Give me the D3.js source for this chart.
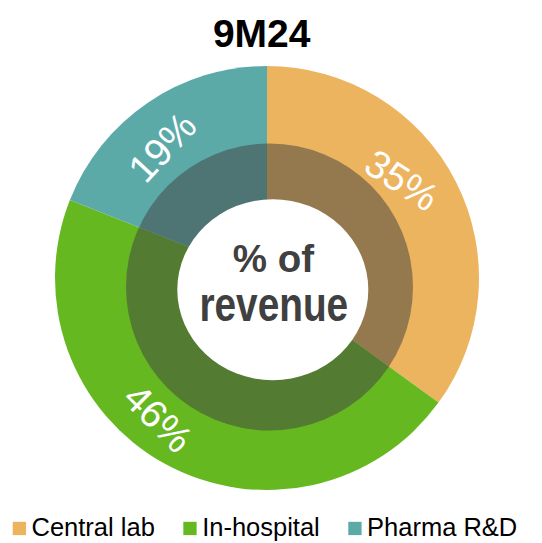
<!DOCTYPE html>
<html>
<head>
<meta charset="utf-8">
<script src="https://cdn.jsdelivr.net/npm/d3@7/dist/d3.min.js"></script>
<style>
  html, body { margin: 0; padding: 0; background: #fff; }
  svg { display: block; }
  text { font-family: "Liberation Sans", Arial, Helvetica, sans-serif; }
</style>
</head>
<body>
<svg id="chart" width="542" height="543"></svg>
<script>
// ---- data ----
const title = "9M24";
const categories = ["Central lab", "In-hospital", "Pharma R&D"];
const values = [35, 46, 19];
const labels = ["35%", "46%", "19%"];
const centerLines = ["% of", "revenue"];

// ---- style ----
const outerColors = ["#EDB45F", "#66B821", "#5BAAA8"];
const innerColors = ["#94794E", "#537B32", "#4E7574"];
const labelAngleOffset = [-9, 9, -4.5];   // degrees, relative to slice middle
const labelRadius = [167, 177, 168];
const labelRotate = [33, 45, -47];

const W = 542, H = 543;
const cx = 267, cy = 278, R = 212;
const svg = d3.select("#chart");

const pie = d3.pie().sort(null).value(d => d)
  .startAngle(0).endAngle(2 * Math.PI);
const arcs = pie(values);
const arcOuter = d3.arc().innerRadius(0).outerRadius(R);

// clip for darker ring
const defs = svg.append("defs");
defs.append("clipPath").attr("id", "ringClip")
  .append("circle").attr("cx", 269.5 - cx).attr("cy", 287 - cy).attr("r", 143.5);

const g = svg.append("g").attr("transform", `translate(${cx},${cy})`);

g.selectAll("path.outer").data(arcs).join("path")
  .attr("class", "outer")
  .attr("d", arcOuter)
  .attr("fill", (d, i) => outerColors[i]);

g.append("g").attr("clip-path", "url(#ringClip)")
  .selectAll("path.inner").data(arcs).join("path")
  .attr("class", "inner")
  .attr("d", arcOuter)
  .attr("fill", (d, i) => innerColors[i]);

// white center
g.append("ellipse")
  .attr("cx", 272.8 - cx).attr("cy", 289.7 - cy)
  .attr("rx", 95.5).attr("ry", 90.5)
  .attr("fill", "#fff");

// slice labels
g.selectAll("text.lbl").data(arcs).join("text")
  .attr("class", "lbl")
  .attr("transform", (d, i) => {
    const a = (d.startAngle + d.endAngle) / 2 + labelAngleOffset[i] * Math.PI / 180;
    const x = Math.sin(a) * labelRadius[i];
    const y = -Math.cos(a) * labelRadius[i];
    return `translate(${x},${y}) rotate(${labelRotate[i]})`;
  })
  .attr("text-anchor", "middle")
  .attr("dy", "0.36em")
  .attr("fill", "#fff")
  .style("font-size", "39px")
  .text((d, i) => labels[i]);

// center text
svg.append("text")
  .attr("x", 273.4).attr("y", 272.3)
  .attr("text-anchor", "middle")
  .attr("fill", "#404040")
  .style("font-size", "38.5px").style("font-weight", "bold")
  .text(centerLines[0]);
svg.append("text")
  .attr("transform", "translate(273.8,321) scale(1,1.22)")
  .attr("text-anchor", "middle")
  .attr("fill", "#404040")
  .style("font-size", "38.8px").style("font-weight", "bold")
  .text(centerLines[1]);

// title
svg.append("text")
  .attr("x", 261.7).attr("y", 46.5)
  .attr("text-anchor", "middle")
  .attr("fill", "#000")
  .style("font-size", "39px").style("font-weight", "bold")
  .text(title);

// legend
const legend = svg.append("g");
let lx = 12.7;
const sq = 13.3, ly = 535.5;
categories.forEach((c, i) => {
  legend.append("rect")
    .attr("x", lx).attr("y", 521.8).attr("width", sq).attr("height", sq)
    .attr("fill", outerColors[i]);
  const t = legend.append("text")
    .attr("x", lx + sq + 5.5).attr("y", ly)
    .attr("fill", "#000")
    .style("font-size", "25.5px")
    .text(c);
  lx = lx + sq + 5.5 + t.node().getComputedTextLength() + 28.5;
});
</script>
</body>
</html>
